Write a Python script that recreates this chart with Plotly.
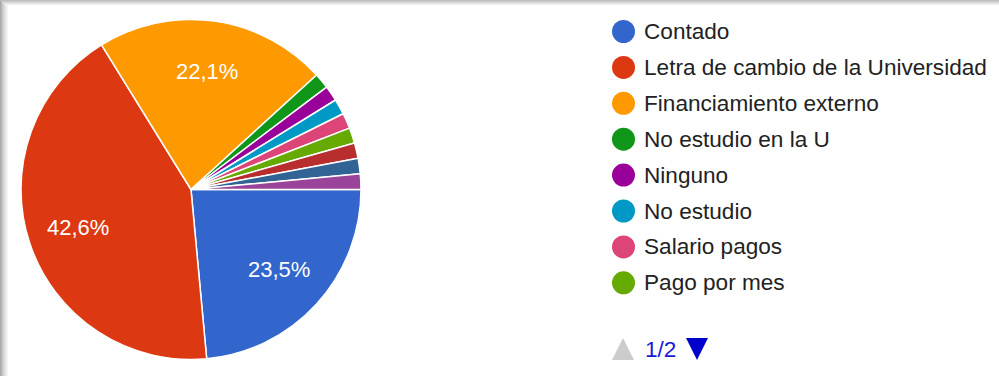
import math
import plotly.graph_objects as go

# Forma de pago — respuestas por categoría (68 respuestas)
labels = [
    "Contado",
    "Letra de cambio de la Universidad",
    "Financiamiento externo",
    "No estudio en la U",
    "Ninguno",
    "No estudio",
    "Salario pagos",
    "Pago por mes",
    "Beca",
    "Crédito",
    "Otro",
]
counts = [16, 29, 15, 1, 1, 1, 1, 1, 1, 1, 1]
colors = [
    "#3366cc", "#dc3912", "#ff9900", "#109618", "#990099", "#0099c6",
    "#dd4477", "#66aa00", "#b82e2e", "#316395", "#994499",
]
legend_page_size = 8
page_text = "1/2"

W, H = 999, 376
FONT = "Arial, Liberation Sans, sans-serif"

# Pie geometry (pixels)
cx, cy, R = 191, 189.5, 170

fig = go.Figure(
    go.Pie(
        labels=labels,
        values=counts,
        marker=dict(colors=colors, line=dict(color="white", width=1.5)),
        sort=False,
        direction="clockwise",
        rotation=90,
        textinfo="none",
        showlegend=False,
        hoverinfo="label+percent",
        domain=dict(x=[(cx - R) / W, (cx + R) / W], y=[(H - cy - R) / H, (H - cy + R) / H]),
    )
)

shapes = []
annotations = []

# Percentage labels on the large slices, placed along each slice's mid-angle
total = sum(counts)
start = 0.0
for c in counts:
    frac = c / total
    if frac > 0.05:
        mid = math.radians((start + frac / 2) * 360)  # clockwise from 3 o'clock
        r = 0.7 * R
        px, py = cx + r * math.cos(mid), cy + r * math.sin(mid)
        annotations.append(dict(
            text=f"{frac * 100:.1f}%".replace(".", ","),
            xref="paper", yref="paper", x=px / W, y=1 - py / H,
            xanchor="center", yanchor="middle", showarrow=False,
            font=dict(family=FONT, size=22, color="white"),
        ))
    start += frac

# Legend (first page)
row0, row_step = 31.5, 35.9
for i in range(legend_page_size):
    yc = row0 + i * row_step
    shapes.append(dict(
        type="circle", xref="paper", yref="paper",
        x0=612 / W, x1=635 / W,
        y0=1 - (yc + 11.5) / H, y1=1 - (yc - 11.5) / H,
        fillcolor=colors[i], line=dict(width=0),
    ))
    annotations.append(dict(
        text=labels[i], xref="paper", yref="paper",
        x=642 / W, y=1 - yc / H, xanchor="left", yanchor="middle",
        showarrow=False,
        font=dict(family=FONT, size=22.6, color="#222222"),
    ))

# Pager
py_top, py_bot = 338, 360
shapes.append(dict(
    type="path", xref="paper", yref="paper",
    path=f"M {612/W} {1-py_bot/H} L {634/W} {1-py_bot/H} L {623/W} {1-py_top/H} Z",
    fillcolor="#cccccc", line=dict(width=0),
))
shapes.append(dict(
    type="path", xref="paper", yref="paper",
    path=f"M {686/W} {1-py_top/H} L {708/W} {1-py_top/H} L {697/W} {1-py_bot/H} Z",
    fillcolor="#0000cc", line=dict(width=0),
))
annotations.append(dict(
    text=page_text, xref="paper", yref="paper",
    x=643 / W, y=1 - 349 / H, xanchor="left", yanchor="middle", showarrow=False,
    font=dict(family=FONT, size=22.6, color="#1a1ad6"),
))

# Soft gray frame on the top and left edges
left_band = ["#a9a9a9", "#b9b9b9", "#c6c6c6", "#d2d2d2", "#dcdcdc", "#e6e6e6", "#eeeeee", "#f6f6f6"]
for k, col in enumerate(left_band):
    shapes.append(dict(
        type="rect", xref="paper", yref="paper",
        x0=k / W, x1=(k + 1) / W, y0=0, y1=1,
        fillcolor=col, line=dict(width=0), layer="below",
    ))
top_band = ["#bdbdbd", "#cacaca", "#d8d8d8", "#e4e4e4", "#f0f0f0"]
for k, col in enumerate(top_band):
    shapes.append(dict(
        type="rect", xref="paper", yref="paper",
        x0=k / W, x1=1,
        y0=1 - (k + 1) / H, y1=1 - k / H,
        fillcolor=col, line=dict(width=0), layer="below",
    ))

fig.update_layout(
    width=W, height=H,
    margin=dict(l=0, r=0, t=0, b=0),
    paper_bgcolor="white",
    plot_bgcolor="white",
    separators=",.",
    shapes=shapes,
    annotations=annotations,
    font=dict(family=FONT),
)

fig.write_html("out.html")
